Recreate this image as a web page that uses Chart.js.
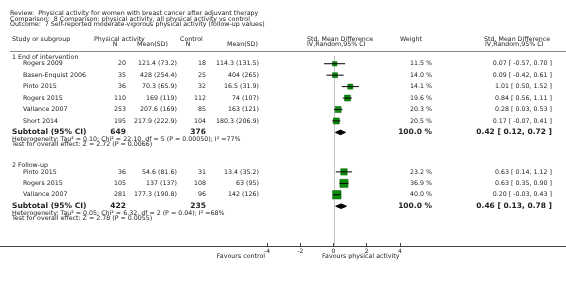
<!DOCTYPE html>
<html>
<head>
<meta charset="utf-8">
<script src="https://cdn.jsdelivr.net/npm/chart.js@4/dist/chart.umd.min.js"></script>
<style>
  html, body { margin: 0; padding: 0; background: #fff; }
  canvas { display: block; }
</style>
</head>
<body>
<canvas id="forest" width="566" height="281" style="width:566px;height:281px"></canvas>
<script>
// ---- data ----
const reviewLines = [
  'Review:  Physical activity for women with breast cancer after adjuvant therapy',
  'Comparison:  8 Comparison: physical activity, all physical activity vs control',
  'Outcome:  7 Self-reported moderate-vigorous physical activity (follow-up values)'
];
const groups = ['1 End of intervention', '2 Follow-up'];
const studies = ['Rogers 2009', 'Basen-Enquist 2006', 'Pinto 2015', 'Rogers 2015', 'Vallance 2007', 'Short 2014',
                 'Pinto 2015', 'Rogers 2015', 'Vallance 2007'];
const studyGroup = [0, 0, 0, 0, 0, 0, 1, 1, 1];
const paN = [20, 35, 36, 110, 253, 195, 36, 105, 281];
const paMeanSD = ['121.4 (73.2)', '428 (254.4)', '70.3 (65.9)', '169 (119)', '207.6 (169)', '217.9 (222.9)',
                  '54.6 (81.6)', '137 (137)', '177.3 (190.8)'];
const ctlN = [18, 25, 32, 112, 85, 104, 31, 108, 96];
const ctlMeanSD = ['114.3 (131.5)', '404 (265)', '16.5 (31.9)', '74 (107)', '163 (121)', '180.3 (206.9)',
                   '13.4 (35.2)', '63 (95)', '142 (126)'];
const weight = [11.5, 14.0, 14.1, 19.6, 20.3, 20.5, 23.2, 36.9, 40.0];
const smd = [0.07, 0.09, 1.01, 0.84, 0.28, 0.17, 0.63, 0.63, 0.20];
const ciLow = [-0.57, -0.42, 0.50, 0.56, 0.03, -0.07, 0.14, 0.35, -0.03];
const ciHigh = [0.70, 0.61, 1.52, 1.11, 0.53, 0.41, 1.12, 0.90, 0.43];
const subPaN = [649, 422];
const subCtlN = [376, 235];
const subSmd = [0.42, 0.46];
const subLow = [0.12, 0.13];
const subHigh = [0.72, 0.78];
const heterogeneity = [
  'Heterogeneity: Tau\u00b2 = 0.10; Chi\u00b2 = 22.10, df = 5 (P = 0.00050); I\u00b2 =77%',
  'Heterogeneity: Tau\u00b2 = 0.05; Chi\u00b2 = 6.32, df = 2 (P = 0.04); I\u00b2 =68%'
];
const overallEffect = [
  'Test for overall effect: Z = 2.72 (P = 0.0066)',
  'Test for overall effect: Z = 2.78 (P = 0.0055)'
];
const xTicks = [-4, -2, 0, 2, 4];
const favours = ['Favours control', 'Favours physical activity'];

// ---- layout (rows in units of one study line) ----
const FONT = '"DejaVu Sans", Verdana, sans-serif';
const TEXT = '#222';
const groupStart = [0, 9.45];
const AXIS_ROW = 15.92;

const studyRow = [];
const subRow = [];
groups.forEach((g, gi) => {
  let j = 0;
  studies.forEach((s, i) => {
    if (studyGroup[i] === gi) { studyRow[i] = groupStart[gi] + j; j++; }
  });
  subRow[gi] = groupStart[gi] + j;
});

const fmt = v => v.toFixed(2);

// CI whiskers, one small line per study
const ciSets = studies.map((s, i) => ({
  showLine: true,
  data: [{x: ciLow[i], y: studyRow[i]}, {x: ciHigh[i], y: studyRow[i]}],
  borderColor: '#000',
  borderWidth: 1,
  pointRadius: 0,
  order: 0
}));

const squareSet = {
  data: smd.map((v, i) => ({x: v, y: studyRow[i]})),
  pointStyle: 'rect',
  pointRadius: weight.map(w => 0.95 * Math.sqrt(w)),
  backgroundColor: '#0b8a0b',
  borderColor: '#006400',
  borderWidth: 0.5,
  order: 1
};

const diamondSets = subSmd.map((v, g) => {
  const r = subRow[g];
  return {
    showLine: true,
    data: [{x: subLow[g], y: r}, {x: v, y: r - 0.2}, {x: subHigh[g], y: r}, {x: v, y: r + 0.2}, {x: subLow[g], y: r}],
    fill: 'shape',
    backgroundColor: '#000',
    borderColor: '#000',
    borderWidth: 1,
    pointRadius: 0,
    order: 0
  };
});

function put(ctx, str, x, y, align, size, bold) {
  ctx.font = (bold ? 'bold ' : '') + size + 'px ' + FONT;
  ctx.textAlign = align;
  ctx.fillText(str, x, y);
}

const forestText = {
  id: 'forestText',
  beforeDatasetsDraw(chart) {
    const {ctx, scales: {x, y}} = chart;
    ctx.save();
    // header rule
    ctx.strokeStyle = '#8a8a8a';
    ctx.lineWidth = 1;
    ctx.beginPath();
    ctx.moveTo(10, Math.round(y.getPixelForValue(-1.08)) + 0.5);
    ctx.lineTo(566, Math.round(y.getPixelForValue(-1.08)) + 0.5);
    ctx.stroke();
    // line of no effect
    const x0 = Math.round(x.getPixelForValue(0)) + 0.5;
    ctx.strokeStyle = '#c4c4c4';
    ctx.beginPath();
    ctx.moveTo(x0, y.getPixelForValue(-0.67));
    ctx.lineTo(x0, y.getPixelForValue(AXIS_ROW));
    ctx.stroke();
    // axis line
    ctx.strokeStyle = '#444';
    ctx.beginPath();
    ctx.moveTo(0, Math.round(y.getPixelForValue(AXIS_ROW)) + 0.5);
    ctx.lineTo(566, Math.round(y.getPixelForValue(AXIS_ROW)) + 0.5);
    ctx.stroke();
    ctx.restore();
  },
  afterDraw(chart) {
    const {ctx, scales: {y}} = chart;
    const py = r => y.getPixelForValue(r);
    ctx.save();
    ctx.fillStyle = TEXT;
    ctx.textBaseline = 'middle';
    const S = 6.3, B = 7.5;

    reviewLines.forEach((t, k) => put(ctx, t, 10, py(-4.42 + 0.5 * k), 'left', S));

    const h1 = py(-2.17), h2 = py(-1.67);
    put(ctx, 'Study or subgroup', 12, h1, 'left', S);
    put(ctx, 'Physical activity', 94, h1, 'left', S);
    put(ctx, 'N', 115, h2, 'center', S);
    put(ctx, 'Mean(SD)', 137, h2, 'left', S);
    put(ctx, 'Control', 180, h1, 'left', S);
    put(ctx, 'N', 188, h2, 'center', S);
    put(ctx, 'Mean(SD)', 227, h2, 'left', S);
    put(ctx, 'Std. Mean Difference', 307, h1, 'left', S);
    put(ctx, 'IV,Random,95% CI', 307, h2, 'left', S);
    put(ctx, 'Weight', 400, h1, 'left', S);
    put(ctx, 'Std. Mean Difference', 484, h1, 'left', S);
    put(ctx, 'IV,Random,95% CI', 485, h2, 'left', S);

    groups.forEach((g, gi) => {
      put(ctx, g, 12, py(groupStart[gi] - 0.58), 'left', S);
      const r = py(subRow[gi]);
      put(ctx, 'Subtotal (95% CI)', 12, r, 'left', B, true);
      put(ctx, String(subPaN[gi]), 126, r, 'right', B, true);
      put(ctx, String(subCtlN[gi]), 206, r, 'right', B, true);
      put(ctx, '100.0 %', 432, r, 'right', B, true);
      put(ctx, fmt(subSmd[gi]) + ' [ ' + fmt(subLow[gi]) + ', ' + fmt(subHigh[gi]) + ' ]', 552, r, 'right', B, true);
      put(ctx, heterogeneity[gi], 12, py(subRow[gi] + 0.6), 'left', S);
      put(ctx, overallEffect[gi], 12, py(subRow[gi] + 1.05), 'left', S);
    });

    studies.forEach((s, i) => {
      const r = py(studyRow[i]);
      put(ctx, s, 23, r, 'left', S);
      put(ctx, String(paN[i]), 126, r, 'right', S);
      put(ctx, paMeanSD[i], 177, r, 'right', S);
      put(ctx, String(ctlN[i]), 206, r, 'right', S);
      put(ctx, ctlMeanSD[i], 259, r, 'right', S);
      put(ctx, weight[i].toFixed(1) + ' %', 432, r, 'right', S);
      put(ctx, fmt(smd[i]) + ' [ ' + fmt(ciLow[i]) + ', ' + fmt(ciHigh[i]) + ' ]', 552, r, 'right', S);
    });

    const fy = py(AXIS_ROW + 0.95);
    put(ctx, favours[0], 265, fy, 'right', S);
    put(ctx, favours[1], 322, fy, 'left', S);
    ctx.restore();
  }
};

const canvas = document.getElementById('forest');
new Chart(canvas.getContext('2d'), {
  type: 'scatter',
  data: { datasets: [...ciSets, ...diamondSets, squareSet] },
  options: {
    responsive: false,
    animation: false,
    devicePixelRatio: 1,
    events: [],
    layout: { padding: { left: 267, right: 166, top: 0, bottom: 0 } },
    plugins: { legend: { display: false }, tooltip: { enabled: false } },
    scales: {
      x: {
        type: 'linear', min: -4, max: 4,
        position: { y: AXIS_ROW },
        afterBuildTicks: s => { s.ticks = xTicks.map(v => ({ value: v })); },
        border: { display: false },
        grid: { drawOnChartArea: false, tickLength: -3, color: '#444' },
        ticks: { color: TEXT, padding: 5, font: { family: FONT, size: 6 }, callback: v => String(v), maxRotation: 0 }
      },
      y: { type: 'linear', min: -5, max: 18.4167, reverse: true, display: false }
    }
  },
  plugins: [forestText]
});
</script>
</body>
</html>
